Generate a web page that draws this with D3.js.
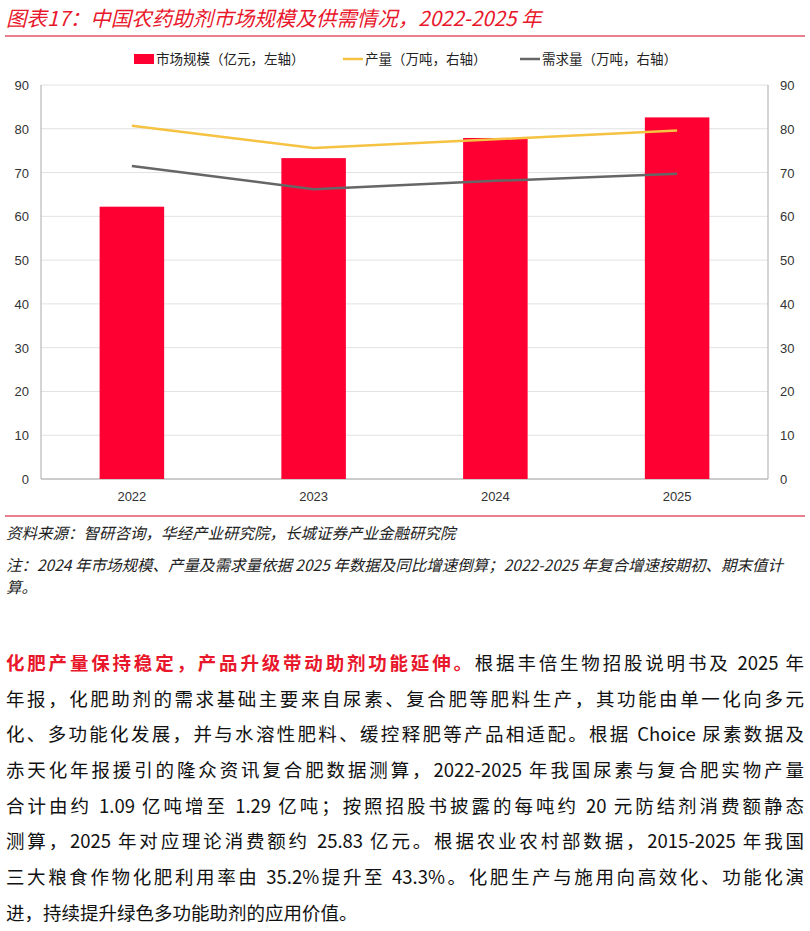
<!DOCTYPE html>
<html><head><meta charset="utf-8">
<script src="https://cdn.jsdelivr.net/npm/d3@7"></script>
<style>
body{margin:0;background:#fff;font-family:"Noto Sans CJK SC","Liberation Sans",sans-serif;}
#wrap{position:relative;width:810px;height:931px;}
.ttl{position:absolute;left:6px;top:2px;font-size:20.5px;color:#e8172b;font-style:italic;}
.hr{position:absolute;left:5px;width:800px;height:2px;background:#e8808c;}
.src{position:absolute;left:6px;font-size:15.5px;font-style:italic;color:#222;}
.body{position:absolute;left:6px;top:645px;width:798px;font-size:18.5px;color:#111;}
.body div{height:35.7px;line-height:35.7px;text-align:justify;text-align-last:justify;white-space:nowrap;}
.body div.last{text-align-last:left;}
.red{color:#e8172b;font-weight:bold;}
</style></head><body><div id="wrap">
<div class="ttl">图表17：中国农药助剂市场规模及供需情况，2022-2025 年</div>
<div class="hr" style="top:35px"></div>
<svg id="c" width="810" height="510" style="position:absolute;left:0;top:0"></svg>
<div class="hr" style="top:515px"></div>
<div class="src" style="top:521px">资料来源：智研咨询，华经产业研究院，长城证券产业金融研究院</div>
<div class="src" style="top:553px;width:800px;line-height:22px">注：2024 年市场规模、产量及需求量依据 2025 年数据及同比增速倒算；2022-2025 年复合增速按期初、期末值计算。</div>
<div class="body">
<div><span class="red">化肥产量保持稳定，产品升级带动助剂功能延伸。</span>根据丰倍生物招股说明书及 2025 年</div>
<div>年报，化肥助剂的需求基础主要来自尿素、复合肥等肥料生产，其功能由单一化向多元</div>
<div>化、多功能化发展，并与水溶性肥料、缓控释肥等产品相适配。根据 Choice 尿素数据及</div>
<div>赤天化年报援引的隆众资讯复合肥数据测算，2022-2025 年我国尿素与复合肥实物产量</div>
<div>合计由约 1.09 亿吨增至 1.29 亿吨；按照招股书披露的每吨约 20 元防结剂消费额静态</div>
<div>测算，2025 年对应理论消费额约 25.83 亿元。根据农业农村部数据，2015-2025 年我国</div>
<div>三大粮食作物化肥利用率由 35.2%提升至 43.3%。化肥生产与施用向高效化、功能化演</div>
<div class="last">进，持续提升绿色多功能助剂的应用价值。</div>
</div>
</div>
<script>
const years=["2022","2023","2024","2025"];
const market=[62.2,73.3,77.9,82.6];
const production=[80.7,75.6,77.6,79.6];
const demand=[71.5,66.2,68.1,69.7];
const ticks=[0,10,20,30,40,50,60,70,80,90];
const svg=d3.select("#c");
const L=41,R=768,T=85,B=479;
const x=d3.scaleBand().domain(years).range([L,R]).paddingInner(0.645).paddingOuter(0.3225);
const y=d3.scaleLinear().domain([0,90]).range([B,T]);
const f="Liberation Sans, Arial, sans-serif";
ticks.forEach(t=>{
  svg.append("line").attr("x1",L).attr("x2",R).attr("y1",y(t)).attr("y2",y(t)).attr("stroke",t==0?"#999":"#e2e2e2");
  svg.append("text").attr("x",L-12).attr("y",y(t)+5).attr("text-anchor","end").attr("font-family",f).attr("font-size",13).attr("fill","#333").text(t);
  svg.append("text").attr("x",R+12).attr("y",y(t)+5).attr("font-family",f).attr("font-size",13).attr("fill","#333").text(t);
});
svg.append("line").attr("x1",L).attr("x2",L).attr("y1",T).attr("y2",B).attr("stroke","#aaa");
svg.append("line").attr("x1",R).attr("x2",R).attr("y1",T).attr("y2",B).attr("stroke","#aaa");
svg.selectAll(".b").data(market).join("rect").attr("x",(d,i)=>x(years[i])).attr("width",x.bandwidth()).attr("y",d=>y(d)).attr("height",d=>B-y(d)).attr("fill","#ff0033");
const cx=i=>x(years[i])+x.bandwidth()/2;
const ln=d3.line().x((d,i)=>cx(i)).y(d=>y(d));
svg.append("path").attr("d",ln(production)).attr("fill","none").attr("stroke","#f5c242").attr("stroke-width",2.5);
svg.append("path").attr("d",ln(demand)).attr("fill","none").attr("stroke","#666").attr("stroke-width",2.5);
years.forEach((yr,i)=>svg.append("text").attr("x",cx(i)).attr("y",B+22).attr("text-anchor","middle").attr("font-family",f).attr("font-size",13).attr("fill","#333").text(yr));
const lg=[["rect","#ff0033","市场规模（亿元，左轴）",134],["line","#f5c242","产量（万吨，右轴）",343],["line","#666","需求量（万吨，右轴）",520]];
lg.forEach(([t,c,s,lx])=>{
  if(t=="rect")svg.append("rect").attr("x",lx).attr("y",54).attr("width",20).attr("height",10).attr("fill",c);
  else svg.append("line").attr("x1",lx).attr("x2",lx+20).attr("y1",59).attr("y2",59).attr("stroke",c).attr("stroke-width",2.5);
  svg.append("text").attr("x",lx+22).attr("y",64).attr("font-size",13.5).attr("fill","#222").attr("font-family","Noto Sans CJK SC").text(s);
});
</script></body></html>
